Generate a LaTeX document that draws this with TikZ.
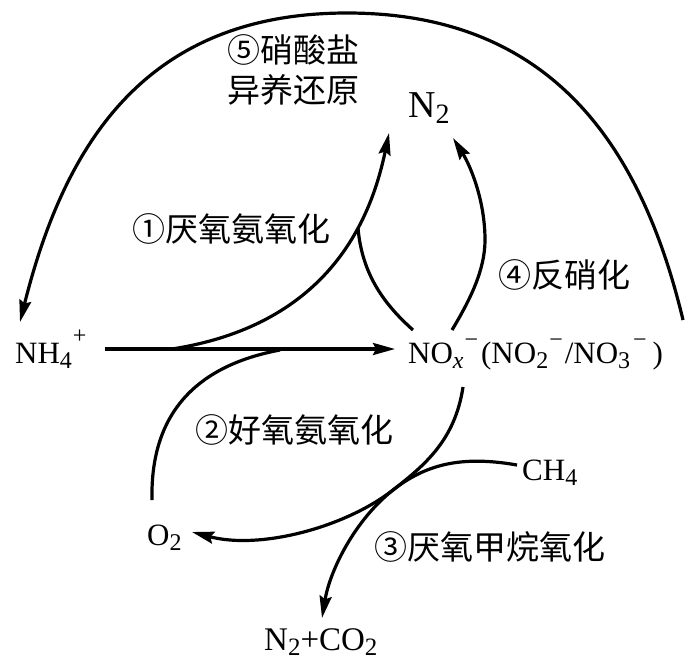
\documentclass[tikz,border=0pt]{standalone}
\usepackage{fontspec}
\setmainfont{Liberation Serif}
\newfontfamily\cjk{Noto Sans CJK SC}
\usetikzlibrary{arrows.meta}
\newcommand\sbs[2][24]{\raisebox{-0.17em}{\fontsize{#1}{#1}\selectfont #2}}
\newcommand\sps[2][0.5em]{\raisebox{#1}{\fontsize{24}{24}\selectfont #2}}
\tikzset{
  lat/.style={font=\fontsize{31}{37}\selectfont, inner sep=0pt},
  latmid/.style={font=\fontsize{33}{39}\selectfont, inner sep=0pt},
  latbig/.style={font=\fontsize{38}{44}\selectfont, inner sep=0pt},
  cn/.style={font=\cjk\fontsize{33}{40}\selectfont, inner sep=0pt},
  ln/.style={line width=3.2pt},
  arr/.style={ln, -{Stealth[length=22pt,width=12pt,inset=3pt]}},
}
\begin{document}
\begin{tikzpicture}[x=1pt,y=-1pt]
\useasboundingbox (0,0) rectangle (700,662);
% chemical species
\node[lat,anchor=base west] (nh4) at (15,363) {NH\sbs{4}\kern1pt\sps[0.62em]{+}};
\node[lat,anchor=base west] (nox) at (408,363) {NO\sbs{\itshape x}\kern1pt\sps{−}\kern3pt(NO\sbs{2}\kern1pt\sps{−}\kern2pt/NO\sbs{3}\kern3pt\sps{−}\kern6pt)};
\node[latbig,anchor=base west] (n2top) at (408,117) {N\sbs[28]{2}};
\node[lat,anchor=base west] (o2) at (147,545) {O\sbs{2}};
\node[latmid,anchor=base west] (prod) at (264,650) {N\sbs[25]{2}+CO\sbs[25]{2}};
\node[lat,anchor=base west] (ch4) at (522,480) {CH\sbs{4}};
% process labels
\node[cn] (l5a) at (293,50) {⑤硝酸盐};
\node[cn] (l5b) at (293,90) {异养还原};
\node[cn] (l1) at (231,229) {①厌氧氨氧化};
\node[cn] (l4) at (564,275) {④反硝化};
\node[cn] (l2) at (294,430) {②好氧氨氧化};
\node[cn] (l3) at (490,547) {③厌氧甲烷氧化};
% connector end points
\coordinate (hs) at (105,349);
\coordinate (he) at (395,349);
\coordinate (j1) at (172,349);
\coordinate (t1) at (389,133);
\coordinate (b1) at (358,228);
\coordinate (b1e) at (413,330);
\coordinate (s4) at (452,330);
\coordinate (p4) at (485,240);
\coordinate (t4) at (453,138);
\coordinate (s2) at (152,500);
\coordinate (j2) at (280,350);
\coordinate (s3) at (463,387);
\coordinate (m3) at (393,490);
\coordinate (t3) at (322,618);
\coordinate (sc) at (517,465);
\coordinate (tc) at (192,532);
\coordinate (s5) at (683,320);
\coordinate (top5) at (347,13);
\coordinate (t5) at (20,322);
% connectors
\draw[arr] (hs) -- (he);
\draw[arr] (j1) .. controls (332,324) and (372,215) .. (t1);
\draw[ln] (b1) .. controls (362,275) and (385,305) .. (b1e);
\draw[arr] (s4) .. controls (470,300) and (485,270) .. (p4) .. controls (485,200) and (470,165) .. (t4);
\draw[ln] (s2) .. controls (150,410) and (200,365) .. (j2);
\draw[arr] (s3) .. controls (455,440) and (425,465) .. (m3) .. controls (355,520) and (330,570) .. (t3);
\draw[arr] (sc) .. controls (460,455) and (425,465) .. (m3) .. controls (345,527.5) and (260,550) .. (tc);
\draw[arr] (s5) .. controls (640,140) and (547,13) .. (top5) .. controls (147,13) and (65,142) .. (t5);
\end{tikzpicture}
\end{document}
